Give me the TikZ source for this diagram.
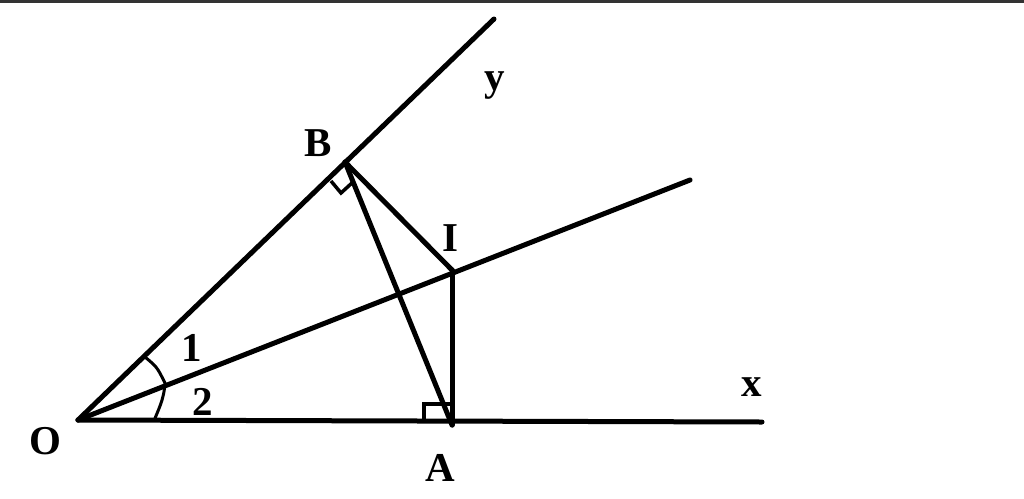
\documentclass[tikz,border=0pt]{standalone}
\usepackage{fontspec}
\setmainfont{Liberation Serif}
\begin{document}
\begin{tikzpicture}[x=1pt,y=-1pt,
  ray/.style={line width=5pt,line cap=round,line join=round},
  rmark/.style={line width=3.5pt,line join=miter},
  lbl/.style={inner sep=0pt,font=\fontsize{41}{45}\selectfont\bfseries}]
\useasboundingbox (0,0) rectangle (1024,498);
\draw[black!80,line width=2.7pt] (0,1.3) -- (1024,1.3);
% points
\coordinate (O) at (78,420);
\coordinate (X) at (762,422);
\coordinate (Y) at (494,19);
\coordinate (Bis) at (690,180);
\coordinate (A) at (452,422);
\coordinate (Ab) at (452,425);
\coordinate (B) at (345,162);
\coordinate (I) at (452,270);
% rays
\draw[ray] (O) -- (X);
\draw[ray] (O) -- (Y);
\draw[ray] (O) -- (Bis);
% segments
\draw[ray] (B) -- (I);
\draw[ray] (B) -- (Ab);
\draw[ray] (I) -- (Ab);
% right angle marks
\draw[rmark] (424,421) -- (424,404) -- (451,404);
\draw[rmark] (331,181) -- (341,193) -- (353,182);
% angle arcs
\draw[line width=3pt] (145,357) .. controls (157,367) .. (165,383)
   .. controls (164,400) and (158,410) .. (154,421);
% labels
\node[lbl] (lO) at (45,441) {O};
\node[lbl] (lA) at (440,468) {A};
\node[lbl] (lB) at (318,143) {B};
\node[lbl] (lI) at (450,238) {I};
\node[lbl] (ly) at (495,86) {y};
\node[lbl] (lx) at (752,387) {x};
\node[lbl] (l1) at (192,348) {1};
\node[lbl] (l2) at (203,402) {2};
\end{tikzpicture}
\end{document}
